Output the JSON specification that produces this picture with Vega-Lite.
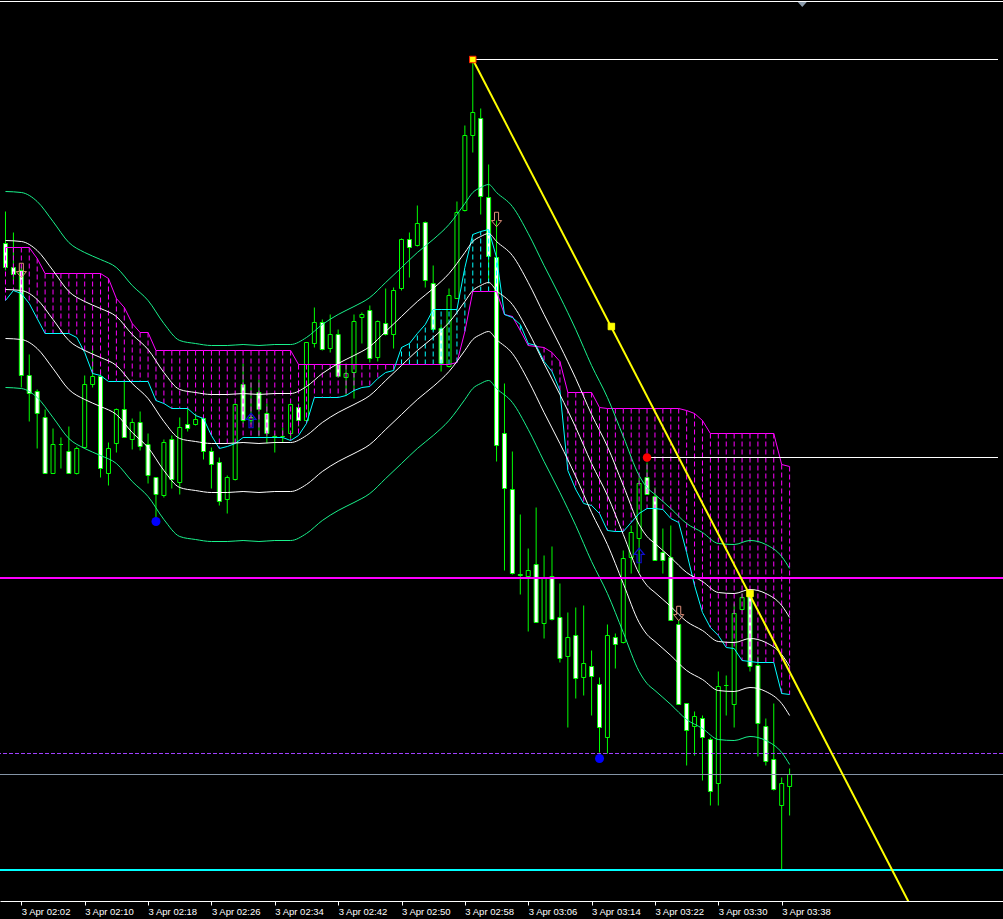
{
"$schema":"https://vega.github.io/schema/vega-lite/v6.json",
"width":1003,"height":901,
"autosize":{"type":"none"},
"padding":{"left":0,"top":0,"right":0,"bottom":18},
"background":"#000000",
"config":{"view":{"stroke":null}},
"datasets":{
"bars":[
{"i":0,"o":658,"h":690,"l":631,"c":634,"m":654,"cy":601},
{"i":1,"o":634,"h":669,"l":621,"c":627,"m":654,"cy":611},
{"i":2,"o":631,"h":635,"l":514,"c":526,"m":654,"cy":608},
{"i":3,"o":526,"h":547,"l":480,"c":508,"m":654,"cy":598},
{"i":4,"o":510,"h":512,"l":453,"c":488,"m":643,"cy":583},
{"i":5,"o":484,"h":492,"l":428,"c":428,"m":628,"cy":568},
{"i":6,"o":428,"h":473,"l":428,"c":457,"m":628,"cy":568},
{"i":7,"o":457,"h":464,"l":433,"c":457,"m":628,"cy":568},
{"i":8,"o":450,"h":475,"l":428,"c":428,"m":628,"cy":568},
{"i":9,"o":428,"h":455,"l":427,"c":453,"m":628,"cy":564},
{"i":10,"o":454,"h":526,"l":453,"c":517,"m":628,"cy":549},
{"i":11,"o":517,"h":553,"l":514,"c":525,"m":628,"cy":528},
{"i":12,"o":525,"h":532,"l":424,"c":433,"m":628,"cy":526},
{"i":13,"o":428,"h":459,"l":416,"c":453,"m":623,"cy":520},
{"i":14,"o":458,"h":493,"l":449,"c":492,"m":603,"cy":520},
{"i":15,"o":492,"h":521,"l":464,"c":464,"m":594,"cy":520},
{"i":16,"o":462,"h":483,"l":452,"c":479,"m":578,"cy":520},
{"i":17,"o":479,"h":490,"l":451,"c":455,"m":569,"cy":520},
{"i":18,"o":457,"h":468,"l":418,"c":426,"m":569,"cy":520},
{"i":19,"o":424,"h":424,"l":384,"c":407,"m":551,"cy":501},
{"i":20,"o":406,"h":462,"l":404,"c":459,"m":551,"cy":498},
{"i":21,"o":462,"h":466,"l":413,"c":422,"m":551,"cy":493},
{"i":22,"o":419,"h":484,"l":407,"c":474,"m":551,"cy":493},
{"i":23,"o":477,"h":494,"l":470,"c":473,"m":551,"cy":493},
{"i":24,"o":477,"h":488,"l":476,"c":482,"m":551,"cy":486},
{"i":25,"o":483,"h":487,"l":442,"c":450,"m":551,"cy":483},
{"i":26,"o":450,"h":454,"l":413,"c":437,"m":551,"cy":466},
{"i":27,"o":439,"h":444,"l":396,"c":400,"m":551,"cy":453},
{"i":28,"o":402,"h":426,"l":388,"c":424,"m":551,"cy":455},
{"i":29,"o":422,"h":498,"l":421,"c":497,"m":551,"cy":458},
{"i":30,"o":517,"h":538,"l":478,"c":481,"m":551,"cy":464},
{"i":31,"o":481,"h":519,"l":477,"c":484,"m":551,"cy":464},
{"i":32,"o":509,"h":522,"l":465,"c":492,"m":551,"cy":464},
{"i":33,"o":488,"h":498,"l":458,"c":468,"m":551,"cy":464},
{"i":34,"o":465,"h":468,"l":449,"c":464,"m":551,"cy":464},
{"i":35,"o":465,"h":474,"l":459,"c":465,"m":551,"cy":464},
{"i":36,"o":468,"h":498,"l":463,"c":497,"m":551,"cy":461},
{"i":37,"o":494,"h":498,"l":475,"c":481,"m":537,"cy":466},
{"i":38,"o":481,"h":559,"l":481,"c":559,"m":537,"cy":478},
{"i":39,"o":558,"h":594,"l":554,"c":579,"m":537,"cy":504},
{"i":40,"o":579,"h":582,"l":551,"c":552,"m":537,"cy":504},
{"i":41,"o":553,"h":587,"l":549,"c":567,"m":537,"cy":504},
{"i":42,"o":567,"h":572,"l":524,"c":525,"m":537,"cy":504},
{"i":43,"o":524,"h":538,"l":506,"c":528,"m":537,"cy":506},
{"i":44,"o":529,"h":587,"l":503,"c":580,"m":537,"cy":511},
{"i":45,"o":584,"h":589,"l":558,"c":587,"m":537,"cy":514},
{"i":46,"o":591,"h":596,"l":539,"c":543,"m":537,"cy":515},
{"i":47,"o":544,"h":581,"l":540,"c":580,"m":537,"cy":523},
{"i":48,"o":578,"h":613,"l":566,"c":567,"m":537,"cy":529},
{"i":49,"o":567,"h":614,"l":553,"c":611,"m":537,"cy":531},
{"i":50,"o":613,"h":663,"l":611,"c":662,"m":537,"cy":554},
{"i":51,"o":662,"h":669,"l":624,"c":654,"m":537,"cy":558},
{"i":52,"o":656,"h":696,"l":655,"c":678,"m":537,"cy":568},
{"i":53,"o":679,"h":680,"l":614,"c":621,"m":537,"cy":577},
{"i":54,"o":618,"h":636,"l":571,"c":572,"m":537,"cy":592},
{"i":55,"o":573,"h":577,"l":530,"c":538,"m":537,"cy":592},
{"i":56,"o":535,"h":613,"l":534,"c":606,"m":537,"cy":592},
{"i":57,"o":603,"h":700,"l":603,"c":689,"m":539,"cy":592},
{"i":58,"o":691,"h":776,"l":690,"c":766,"m":570,"cy":634},
{"i":59,"o":766,"h":842,"l":749,"c":789,"m":610,"cy":667},
{"i":60,"o":783,"h":793,"l":687,"c":705,"m":610,"cy":670},
{"i":61,"o":704,"h":737,"l":622,"c":645,"m":610,"cy":672},
{"i":62,"o":644,"h":681,"l":440,"c":456,"m":610,"cy":644},
{"i":63,"o":468,"h":518,"l":331,"c":413,"m":587,"cy":587},
{"i":64,"o":412,"h":450,"l":327,"c":328,"m":585,"cy":584},
{"i":65,"o":327,"h":387,"l":307,"c":326,"m":571,"cy":577},
{"i":66,"o":325,"h":353,"l":270,"c":331,"m":556,"cy":558},
{"i":67,"o":337,"h":394,"l":279,"c":279,"m":555,"cy":556},
{"i":68,"o":278,"h":346,"l":263,"c":324,"m":554,"cy":540},
{"i":69,"o":325,"h":355,"l":281,"c":282,"m":549,"cy":530},
{"i":70,"o":284,"h":318,"l":239,"c":243,"m":540,"cy":511},
{"i":71,"o":245,"h":289,"l":174,"c":264,"m":509,"cy":431},
{"i":72,"o":266,"h":294,"l":203,"c":223,"m":509,"cy":412},
{"i":73,"o":224,"h":296,"l":206,"c":238,"m":509,"cy":398},
{"i":74,"o":235,"h":251,"l":186,"c":225,"m":509,"cy":396},
{"i":75,"o":217,"h":224,"l":149,"c":174,"m":494,"cy":388},
{"i":76,"o":164,"h":277,"l":148,"c":266,"m":493,"cy":371},
{"i":77,"o":264,"h":268,"l":233,"c":257,"m":493,"cy":370},
{"i":78,"o":259,"h":351,"l":258,"c":343,"m":493,"cy":370},
{"i":79,"o":344,"h":376,"l":328,"c":369,"m":493,"cy":379},
{"i":80,"o":363,"h":424,"l":329,"c":418,"m":493,"cy":388},
{"i":81,"o":424,"h":439,"l":407,"c":407,"m":493,"cy":393},
{"i":82,"o":405,"h":414,"l":341,"c":341,"m":493,"cy":393},
{"i":83,"o":349,"h":373,"l":328,"c":341,"m":493,"cy":392},
{"i":84,"o":344,"h":376,"l":281,"c":281,"m":493,"cy":383},
{"i":85,"o":277,"h":281,"l":197,"c":197,"m":493,"cy":379},
{"i":86,"o":198,"h":198,"l":136,"c":171,"m":491,"cy":349},
{"i":87,"o":175,"h":190,"l":146,"c":185,"m":488,"cy":316},
{"i":88,"o":183,"h":186,"l":121,"c":164,"m":481,"cy":289},
{"i":89,"o":162,"h":164,"l":96,"c":110,"m":468,"cy":274},
{"i":90,"o":118,"h":230,"l":96,"c":215,"m":468,"cy":266},
{"i":91,"o":216,"h":226,"l":186,"c":216,"m":468,"cy":254},
{"i":92,"o":197,"h":298,"l":174,"c":288,"m":468,"cy":253},
{"i":93,"o":292,"h":308,"l":291,"c":304,"m":468,"cy":241},
{"i":94,"o":309,"h":311,"l":230,"c":235,"m":468,"cy":240},
{"i":95,"o":236,"h":245,"l":145,"c":178,"m":468,"cy":239},
{"i":96,"o":175,"h":183,"l":136,"c":140,"m":468,"cy":239},
{"i":97,"o":142,"h":198,"l":111,"c":112,"m":468,"cy":239},
{"i":98,"o":96,"h":124,"l":31,"c":118,"m":437,"cy":208},
{"i":99,"o":115,"h":133,"l":86,"c":127,"m":435,"cy":207}
],
"env":[
{"i":0,"ug":710,"uw":661,"mw":612,"lw":563,"lg":514},
{"i":2,"ug":709,"uw":660,"mw":611,"lw":562,"lg":513},
{"i":4,"ug":700,"uw":651,"mw":602,"lw":553,"lg":504},
{"i":6,"ug":680,"uw":631,"mw":582,"lw":533,"lg":484},
{"i":8,"ug":659,"uw":610,"mw":561,"lw":512,"lg":463},
{"i":10,"ug":649,"uw":600,"mw":551,"lw":502,"lg":453},
{"i":12,"ug":642,"uw":593,"mw":544,"lw":495,"lg":446},
{"i":14,"ug":634,"uw":585,"mw":536,"lw":487,"lg":438},
{"i":16,"ug":616,"uw":567,"mw":518,"lw":469,"lg":420},
{"i":18,"ug":601,"uw":552,"mw":503,"lw":454,"lg":405},
{"i":20,"ug":578,"uw":529,"mw":480,"lw":431,"lg":382},
{"i":22,"ug":561,"uw":512,"mw":463,"lw":414,"lg":365},
{"i":24,"ug":558,"uw":509,"mw":460,"lw":411,"lg":362},
{"i":26,"ug":556,"uw":507,"mw":458,"lw":409,"lg":360},
{"i":28,"ug":556,"uw":507,"mw":458,"lw":409,"lg":360},
{"i":30,"ug":557,"uw":508,"mw":459,"lw":410,"lg":361},
{"i":32,"ug":556,"uw":507,"mw":458,"lw":409,"lg":360},
{"i":34,"ug":557,"uw":508,"mw":459,"lw":410,"lg":361},
{"i":36,"ug":557,"uw":508,"mw":459,"lw":410,"lg":361},
{"i":38,"ug":564,"uw":515,"mw":466,"lw":417,"lg":368},
{"i":40,"ug":577,"uw":528,"mw":479,"lw":430,"lg":381},
{"i":42,"ug":587,"uw":538,"mw":489,"lw":440,"lg":391},
{"i":44,"ug":595,"uw":546,"mw":497,"lw":448,"lg":399},
{"i":46,"ug":604,"uw":555,"mw":506,"lw":457,"lg":408},
{"i":48,"ug":619,"uw":570,"mw":521,"lw":472,"lg":423},
{"i":50,"ug":634,"uw":585,"mw":536,"lw":487,"lg":438},
{"i":52,"ug":649,"uw":600,"mw":551,"lw":502,"lg":453},
{"i":54,"ug":662,"uw":613,"mw":564,"lw":515,"lg":466},
{"i":56,"ug":677,"uw":628,"mw":579,"lw":530,"lg":481},
{"i":58,"ug":698,"uw":649,"mw":600,"lw":551,"lg":502},
{"i":59,"ug":709,"uw":660,"mw":611,"lw":562,"lg":513},
{"i":60,"ug":714,"uw":665,"mw":616,"lw":567,"lg":518},
{"i":61,"ug":717,"uw":668,"mw":619,"lw":570,"lg":521},
{"i":62,"ug":709,"uw":660,"mw":611,"lw":562,"lg":513},
{"i":64,"ug":695,"uw":646,"mw":597,"lw":548,"lg":499},
{"i":66,"ug":668,"uw":619,"mw":570,"lw":521,"lg":472},
{"i":68,"ug":636,"uw":587,"mw":538,"lw":489,"lg":440},
{"i":70,"ug":605,"uw":556,"mw":507,"lw":458,"lg":409},
{"i":72,"ug":572,"uw":523,"mw":474,"lw":425,"lg":376},
{"i":74,"ug":536,"uw":487,"mw":438,"lw":389,"lg":340},
{"i":76,"ug":504,"uw":455,"mw":406,"lw":357,"lg":308},
{"i":78,"ug":465,"uw":416,"mw":367,"lw":318,"lg":269},
{"i":80,"ug":426,"uw":377,"mw":328,"lw":279,"lg":230},
{"i":81,"ug":414,"uw":365,"mw":316,"lw":267,"lg":218},
{"i":82,"ug":407,"uw":358,"mw":309,"lw":260,"lg":211},
{"i":84,"ug":393,"uw":344,"mw":295,"lw":246,"lg":197},
{"i":86,"ug":378,"uw":329,"mw":280,"lw":231,"lg":182},
{"i":88,"ug":369,"uw":320,"mw":271,"lw":222,"lg":173},
{"i":90,"ug":358,"uw":309,"mw":260,"lw":211,"lg":162},
{"i":92,"ug":357,"uw":308,"mw":259,"lw":210,"lg":161},
{"i":94,"ug":361,"uw":312,"mw":263,"lw":214,"lg":165},
{"i":96,"ug":357,"uw":308,"mw":259,"lw":210,"lg":161},
{"i":98,"ug":345,"uw":296,"mw":247,"lw":198,"lg":149},
{"i":99,"ug":333,"uw":284,"mw":235,"lw":186,"lg":137}
]
},
"layer":[
{"data":{"name":"bars"},"mark":{"type":"rule","color":"#00ff00","strokeWidth":1},
 "encoding":{
  "x":{"field":"i","type":"quantitative","scale":{"domain":[-0.0625,125.3125],"nice":false,"zero":false},
   "axis":{"values":[2,10,18,26,34,42,50,58,66,74,82,90,98],"labelExpr":"'3 Apr ' + timeFormat(datetime(2024,3,3,2,datum.value),'%H:%M')","title":null,"grid":false,"domain":true,"domainColor":"#ffffff","domainWidth":1,"ticks":true,"tickColor":"#ffffff","tickWidth":1,"tickSize":4,"labels":true,"labelColor":"#ffffff","labelAlign":"left","labelBaseline":"top","labelPadding":1,"labelFont":"Liberation Sans","labelFontSize":9.5,"labelFlush":false,"labelOverlap":false}},
  "y":{"field":"l","type":"quantitative","scale":{"domain":[0.5,901.5],"nice":false,"zero":false},"axis":null},
  "y2":{"field":"h"}}},
{"data":{"name":"bars"},"mark":{"type":"bar","width":4,"stroke":"#00ff00","strokeWidth":1},
 "encoding":{
  "x":{"field":"i","type":"quantitative","scale":{"domain":[-0.0625,125.3125],"nice":false,"zero":false},
   "axis":{"values":[2,10,18,26,34,42,50,58,66,74,82,90,98],"labelExpr":"'3 Apr ' + timeFormat(datetime(2024,3,3,2,datum.value),'%H:%M')","title":null,"grid":false,"domain":true,"domainColor":"#ffffff","domainWidth":1,"ticks":true,"tickColor":"#ffffff","tickWidth":1,"tickSize":4,"labels":true,"labelColor":"#ffffff","labelAlign":"left","labelBaseline":"top","labelPadding":1,"labelFont":"Liberation Sans","labelFontSize":9.5,"labelFlush":false,"labelOverlap":false}},
  "y":{"field":"o","type":"quantitative","scale":{"domain":[0.5,901.5],"nice":false,"zero":false},"axis":null},
  "y2":{"field":"c"},
  "fill":{"condition":{"test":"datum.c < datum.o","value":"#ffffff"},"value":"#000000"}}},
{"data":{"name":"bars"},"mark":{"type":"rule","strokeWidth":1,"strokeDash":[5,3]},
 "encoding":{
  "x":{"field":"i","type":"quantitative","scale":{"domain":[-0.0625,125.3125],"nice":false,"zero":false},
   "axis":{"values":[2,10,18,26,34,42,50,58,66,74,82,90,98],"labelExpr":"'3 Apr ' + timeFormat(datetime(2024,3,3,2,datum.value),'%H:%M')","title":null,"grid":false,"domain":true,"domainColor":"#ffffff","domainWidth":1,"ticks":true,"tickColor":"#ffffff","tickWidth":1,"tickSize":4,"labels":true,"labelColor":"#ffffff","labelAlign":"left","labelBaseline":"top","labelPadding":1,"labelFont":"Liberation Sans","labelFontSize":9.5,"labelFlush":false,"labelOverlap":false}},
  "y":{"field":"m","type":"quantitative","scale":{"domain":[0.5,901.5],"nice":false,"zero":false},"axis":null},
  "y2":{"field":"cy"},
  "color":{"condition":{"test":"datum.m >= datum.cy","value":"#ff00ff"},"value":"#00ffff"}}},
{"data":{"name":"bars"},"mark":{"type":"line","color":"#ff00ff","strokeWidth":1},
 "encoding":{
  "x":{"field":"i","type":"quantitative","scale":{"domain":[-0.0625,125.3125],"nice":false,"zero":false},
   "axis":{"values":[2,10,18,26,34,42,50,58,66,74,82,90,98],"labelExpr":"'3 Apr ' + timeFormat(datetime(2024,3,3,2,datum.value),'%H:%M')","title":null,"grid":false,"domain":true,"domainColor":"#ffffff","domainWidth":1,"ticks":true,"tickColor":"#ffffff","tickWidth":1,"tickSize":4,"labels":true,"labelColor":"#ffffff","labelAlign":"left","labelBaseline":"top","labelPadding":1,"labelFont":"Liberation Sans","labelFontSize":9.5,"labelFlush":false,"labelOverlap":false}},
  "y":{"field":"m","type":"quantitative","scale":{"domain":[0.5,901.5],"nice":false,"zero":false},"axis":null}}},
{"data":{"name":"bars"},"mark":{"type":"line","color":"#00ffff","strokeWidth":1},
 "encoding":{
  "x":{"field":"i","type":"quantitative","scale":{"domain":[-0.0625,125.3125],"nice":false,"zero":false},
   "axis":{"values":[2,10,18,26,34,42,50,58,66,74,82,90,98],"labelExpr":"'3 Apr ' + timeFormat(datetime(2024,3,3,2,datum.value),'%H:%M')","title":null,"grid":false,"domain":true,"domainColor":"#ffffff","domainWidth":1,"ticks":true,"tickColor":"#ffffff","tickWidth":1,"tickSize":4,"labels":true,"labelColor":"#ffffff","labelAlign":"left","labelBaseline":"top","labelPadding":1,"labelFont":"Liberation Sans","labelFontSize":9.5,"labelFlush":false,"labelOverlap":false}},
  "y":{"field":"cy","type":"quantitative","scale":{"domain":[0.5,901.5],"nice":false,"zero":false},"axis":null}}},
{"data":{"name":"env"},"mark":{"type":"line","color":"#19f28c","strokeWidth":1,"interpolate":"monotone"},
 "encoding":{
  "x":{"field":"i","type":"quantitative","scale":{"domain":[-0.0625,125.3125],"nice":false,"zero":false},
   "axis":{"values":[2,10,18,26,34,42,50,58,66,74,82,90,98],"labelExpr":"'3 Apr ' + timeFormat(datetime(2024,3,3,2,datum.value),'%H:%M')","title":null,"grid":false,"domain":true,"domainColor":"#ffffff","domainWidth":1,"ticks":true,"tickColor":"#ffffff","tickWidth":1,"tickSize":4,"labels":true,"labelColor":"#ffffff","labelAlign":"left","labelBaseline":"top","labelPadding":1,"labelFont":"Liberation Sans","labelFontSize":9.5,"labelFlush":false,"labelOverlap":false}},
  "y":{"field":"ug","type":"quantitative","scale":{"domain":[0.5,901.5],"nice":false,"zero":false},"axis":null}}},
{"data":{"name":"env"},"mark":{"type":"line","color":"#ffffff","strokeWidth":1,"interpolate":"monotone"},
 "encoding":{
  "x":{"field":"i","type":"quantitative","scale":{"domain":[-0.0625,125.3125],"nice":false,"zero":false},
   "axis":{"values":[2,10,18,26,34,42,50,58,66,74,82,90,98],"labelExpr":"'3 Apr ' + timeFormat(datetime(2024,3,3,2,datum.value),'%H:%M')","title":null,"grid":false,"domain":true,"domainColor":"#ffffff","domainWidth":1,"ticks":true,"tickColor":"#ffffff","tickWidth":1,"tickSize":4,"labels":true,"labelColor":"#ffffff","labelAlign":"left","labelBaseline":"top","labelPadding":1,"labelFont":"Liberation Sans","labelFontSize":9.5,"labelFlush":false,"labelOverlap":false}},
  "y":{"field":"uw","type":"quantitative","scale":{"domain":[0.5,901.5],"nice":false,"zero":false},"axis":null}}},
{"data":{"name":"env"},"mark":{"type":"line","color":"#ffffff","strokeWidth":1,"interpolate":"monotone"},
 "encoding":{
  "x":{"field":"i","type":"quantitative","scale":{"domain":[-0.0625,125.3125],"nice":false,"zero":false},
   "axis":{"values":[2,10,18,26,34,42,50,58,66,74,82,90,98],"labelExpr":"'3 Apr ' + timeFormat(datetime(2024,3,3,2,datum.value),'%H:%M')","title":null,"grid":false,"domain":true,"domainColor":"#ffffff","domainWidth":1,"ticks":true,"tickColor":"#ffffff","tickWidth":1,"tickSize":4,"labels":true,"labelColor":"#ffffff","labelAlign":"left","labelBaseline":"top","labelPadding":1,"labelFont":"Liberation Sans","labelFontSize":9.5,"labelFlush":false,"labelOverlap":false}},
  "y":{"field":"mw","type":"quantitative","scale":{"domain":[0.5,901.5],"nice":false,"zero":false},"axis":null}}},
{"data":{"name":"env"},"mark":{"type":"line","color":"#ffffff","strokeWidth":1,"interpolate":"monotone"},
 "encoding":{
  "x":{"field":"i","type":"quantitative","scale":{"domain":[-0.0625,125.3125],"nice":false,"zero":false},
   "axis":{"values":[2,10,18,26,34,42,50,58,66,74,82,90,98],"labelExpr":"'3 Apr ' + timeFormat(datetime(2024,3,3,2,datum.value),'%H:%M')","title":null,"grid":false,"domain":true,"domainColor":"#ffffff","domainWidth":1,"ticks":true,"tickColor":"#ffffff","tickWidth":1,"tickSize":4,"labels":true,"labelColor":"#ffffff","labelAlign":"left","labelBaseline":"top","labelPadding":1,"labelFont":"Liberation Sans","labelFontSize":9.5,"labelFlush":false,"labelOverlap":false}},
  "y":{"field":"lw","type":"quantitative","scale":{"domain":[0.5,901.5],"nice":false,"zero":false},"axis":null}}},
{"data":{"name":"env"},"mark":{"type":"line","color":"#19f28c","strokeWidth":1,"interpolate":"monotone"},
 "encoding":{
  "x":{"field":"i","type":"quantitative","scale":{"domain":[-0.0625,125.3125],"nice":false,"zero":false},
   "axis":{"values":[2,10,18,26,34,42,50,58,66,74,82,90,98],"labelExpr":"'3 Apr ' + timeFormat(datetime(2024,3,3,2,datum.value),'%H:%M')","title":null,"grid":false,"domain":true,"domainColor":"#ffffff","domainWidth":1,"ticks":true,"tickColor":"#ffffff","tickWidth":1,"tickSize":4,"labels":true,"labelColor":"#ffffff","labelAlign":"left","labelBaseline":"top","labelPadding":1,"labelFont":"Liberation Sans","labelFontSize":9.5,"labelFlush":false,"labelOverlap":false}},
  "y":{"field":"lg","type":"quantitative","scale":{"domain":[0.5,901.5],"nice":false,"zero":false},"axis":null}}},
{"data":{"values":[{"level":900}]},"mark":{"type":"rule","color":"#ffffff","strokeWidth":1},
 "encoding":{"y":{"field":"level","type":"quantitative","scale":{"domain":[0.5,901.5],"nice":false,"zero":false},"axis":null}}},
{"data":{"values":[{"level":323.5}]},"mark":{"type":"rule","color":"#ff00ff","strokeWidth":2},
 "encoding":{"y":{"field":"level","type":"quantitative","scale":{"domain":[0.5,901.5],"nice":false,"zero":false},"axis":null}}},
{"data":{"values":[{"level":148}]},"mark":{"type":"rule","color":"#a040ff","strokeWidth":1,"strokeDash":[4,2]},
 "encoding":{"y":{"field":"level","type":"quantitative","scale":{"domain":[0.5,901.5],"nice":false,"zero":false},"axis":null}}},
{"data":{"values":[{"level":127}]},"mark":{"type":"rule","color":"#8494a6","strokeWidth":1},
 "encoding":{"y":{"field":"level","type":"quantitative","scale":{"domain":[0.5,901.5],"nice":false,"zero":false},"axis":null}}},
{"data":{"values":[{"level":31.5}]},"mark":{"type":"rule","color":"#00ffff","strokeWidth":2},
 "encoding":{"y":{"field":"level","type":"quantitative","scale":{"domain":[0.5,901.5],"nice":false,"zero":false},"axis":null}}},
{"data":{"values":[{"i":59,"i2":125.3125,"level":842},{"i":81,"i2":125.3125,"level":444}]},"mark":{"type":"rule","color":"#ffffff","strokeWidth":1},
 "encoding":{
  "x":{"field":"i","type":"quantitative","scale":{"domain":[-0.0625,125.3125],"nice":false,"zero":false},
   "axis":{"values":[2,10,18,26,34,42,50,58,66,74,82,90,98],"labelExpr":"'3 Apr ' + timeFormat(datetime(2024,3,3,2,datum.value),'%H:%M')","title":null,"grid":false,"domain":true,"domainColor":"#ffffff","domainWidth":1,"ticks":true,"tickColor":"#ffffff","tickWidth":1,"tickSize":4,"labels":true,"labelColor":"#ffffff","labelAlign":"left","labelBaseline":"top","labelPadding":1,"labelFont":"Liberation Sans","labelFontSize":9.5,"labelFlush":false,"labelOverlap":false}},
  "x2":{"field":"i2"},
  "y":{"field":"level","type":"quantitative","scale":{"domain":[0.5,901.5],"nice":false,"zero":false},"axis":null}}},
{"data":{"values":[{"i":59,"level":842},{"i":114,"level":0}]},"mark":{"type":"line","color":"#ffff00","strokeWidth":2,"clip":true},
 "encoding":{
  "x":{"field":"i","type":"quantitative","scale":{"domain":[-0.0625,125.3125],"nice":false,"zero":false},
   "axis":{"values":[2,10,18,26,34,42,50,58,66,74,82,90,98],"labelExpr":"'3 Apr ' + timeFormat(datetime(2024,3,3,2,datum.value),'%H:%M')","title":null,"grid":false,"domain":true,"domainColor":"#ffffff","domainWidth":1,"ticks":true,"tickColor":"#ffffff","tickWidth":1,"tickSize":4,"labels":true,"labelColor":"#ffffff","labelAlign":"left","labelBaseline":"top","labelPadding":1,"labelFont":"Liberation Sans","labelFontSize":9.5,"labelFlush":false,"labelOverlap":false}},
  "y":{"field":"level","type":"quantitative","scale":{"domain":[0.5,901.5],"nice":false,"zero":false},"axis":null}}},
{"data":{"values":[{"i":59,"level":842,"edge":"start"},{"i":76.5,"level":575,"edge":"mid"},{"i":94,"level":308,"edge":"end"}]},"mark":{"type":"point","shape":"square","filled":true,"size":42,"strokeWidth":1,"opacity":1},
 "encoding":{
  "x":{"field":"i","type":"quantitative","scale":{"domain":[-0.0625,125.3125],"nice":false,"zero":false},
   "axis":{"values":[2,10,18,26,34,42,50,58,66,74,82,90,98],"labelExpr":"'3 Apr ' + timeFormat(datetime(2024,3,3,2,datum.value),'%H:%M')","title":null,"grid":false,"domain":true,"domainColor":"#ffffff","domainWidth":1,"ticks":true,"tickColor":"#ffffff","tickWidth":1,"tickSize":4,"labels":true,"labelColor":"#ffffff","labelAlign":"left","labelBaseline":"top","labelPadding":1,"labelFont":"Liberation Sans","labelFontSize":9.5,"labelFlush":false,"labelOverlap":false}},
  "y":{"field":"level","type":"quantitative","scale":{"domain":[0.5,901.5],"nice":false,"zero":false},"axis":null},
  "fill":{"value":"#ffff00"},
  "stroke":{"condition":{"test":"datum.edge === 'start'","value":"#ff2000"},"value":"#ffff00"}}},
{"data":{"values":[{"i":19,"level":380},{"i":75,"level":143}]},"mark":{"type":"point","shape":"circle","filled":true,"size":81,"color":"#0000ff","opacity":1},
 "encoding":{
  "x":{"field":"i","type":"quantitative","scale":{"domain":[-0.0625,125.3125],"nice":false,"zero":false},
   "axis":{"values":[2,10,18,26,34,42,50,58,66,74,82,90,98],"labelExpr":"'3 Apr ' + timeFormat(datetime(2024,3,3,2,datum.value),'%H:%M')","title":null,"grid":false,"domain":true,"domainColor":"#ffffff","domainWidth":1,"ticks":true,"tickColor":"#ffffff","tickWidth":1,"tickSize":4,"labels":true,"labelColor":"#ffffff","labelAlign":"left","labelBaseline":"top","labelPadding":1,"labelFont":"Liberation Sans","labelFontSize":9.5,"labelFlush":false,"labelOverlap":false}},
  "y":{"field":"level","type":"quantitative","scale":{"domain":[0.5,901.5],"nice":false,"zero":false},"axis":null}}},
{"data":{"values":[{"i":81,"level":444}]},"mark":{"type":"point","shape":"circle","filled":true,"size":72,"color":"#ff0000","opacity":1},
 "encoding":{
  "x":{"field":"i","type":"quantitative","scale":{"domain":[-0.0625,125.3125],"nice":false,"zero":false},
   "axis":{"values":[2,10,18,26,34,42,50,58,66,74,82,90,98],"labelExpr":"'3 Apr ' + timeFormat(datetime(2024,3,3,2,datum.value),'%H:%M')","title":null,"grid":false,"domain":true,"domainColor":"#ffffff","domainWidth":1,"ticks":true,"tickColor":"#ffffff","tickWidth":1,"tickSize":4,"labels":true,"labelColor":"#ffffff","labelAlign":"left","labelBaseline":"top","labelPadding":1,"labelFont":"Liberation Sans","labelFontSize":9.5,"labelFlush":false,"labelOverlap":false}},
  "y":{"field":"level","type":"quantitative","scale":{"domain":[0.5,901.5],"nice":false,"zero":false},"axis":null}}},
{"data":{"values":[{"i":2,"level":631},{"i":62,"level":682},{"i":85,"level":288}]},"mark":{"type":"point","shape":"M-0.28,-1L0.28,-1L0.28,0.15L0.7,0.15L0,1L-0.7,0.15L-0.28,0.15Z","filled":false,"size":210,"stroke":"#e0907a","strokeWidth":1,"opacity":1},
 "encoding":{
  "x":{"field":"i","type":"quantitative","scale":{"domain":[-0.0625,125.3125],"nice":false,"zero":false},
   "axis":{"values":[2,10,18,26,34,42,50,58,66,74,82,90,98],"labelExpr":"'3 Apr ' + timeFormat(datetime(2024,3,3,2,datum.value),'%H:%M')","title":null,"grid":false,"domain":true,"domainColor":"#ffffff","domainWidth":1,"ticks":true,"tickColor":"#ffffff","tickWidth":1,"tickSize":4,"labels":true,"labelColor":"#ffffff","labelAlign":"left","labelBaseline":"top","labelPadding":1,"labelFont":"Liberation Sans","labelFontSize":9.5,"labelFlush":false,"labelOverlap":false}},
  "y":{"field":"level","type":"quantitative","scale":{"domain":[0.5,901.5],"nice":false,"zero":false},"axis":null}}},
{"data":{"values":[{"i":31,"level":481},{"i":80,"level":346}]},"mark":{"type":"point","shape":"M-0.28,1L0.28,1L0.28,-0.15L0.7,-0.15L0,-1L-0.7,-0.15L-0.28,-0.15Z","filled":false,"size":210,"stroke":"#1010d0","strokeWidth":1.2,"opacity":1},
 "encoding":{
  "x":{"field":"i","type":"quantitative","scale":{"domain":[-0.0625,125.3125],"nice":false,"zero":false},
   "axis":{"values":[2,10,18,26,34,42,50,58,66,74,82,90,98],"labelExpr":"'3 Apr ' + timeFormat(datetime(2024,3,3,2,datum.value),'%H:%M')","title":null,"grid":false,"domain":true,"domainColor":"#ffffff","domainWidth":1,"ticks":true,"tickColor":"#ffffff","tickWidth":1,"tickSize":4,"labels":true,"labelColor":"#ffffff","labelAlign":"left","labelBaseline":"top","labelPadding":1,"labelFont":"Liberation Sans","labelFontSize":9.5,"labelFlush":false,"labelOverlap":false}},
  "y":{"field":"level","type":"quantitative","scale":{"domain":[0.5,901.5],"nice":false,"zero":false},"axis":null}}},
{"data":{"values":[{"i":100.6,"level":897}]},"mark":{"type":"point","shape":"M-1,-0.55L1,-0.55L0,0.55Z","filled":true,"size":81,"color":"#8a9aaa","opacity":1},
 "encoding":{
  "x":{"field":"i","type":"quantitative","scale":{"domain":[-0.0625,125.3125],"nice":false,"zero":false},
   "axis":{"values":[2,10,18,26,34,42,50,58,66,74,82,90,98],"labelExpr":"'3 Apr ' + timeFormat(datetime(2024,3,3,2,datum.value),'%H:%M')","title":null,"grid":false,"domain":true,"domainColor":"#ffffff","domainWidth":1,"ticks":true,"tickColor":"#ffffff","tickWidth":1,"tickSize":4,"labels":true,"labelColor":"#ffffff","labelAlign":"left","labelBaseline":"top","labelPadding":1,"labelFont":"Liberation Sans","labelFontSize":9.5,"labelFlush":false,"labelOverlap":false}},
  "y":{"field":"level","type":"quantitative","scale":{"domain":[0.5,901.5],"nice":false,"zero":false},"axis":null}}}
]
}
